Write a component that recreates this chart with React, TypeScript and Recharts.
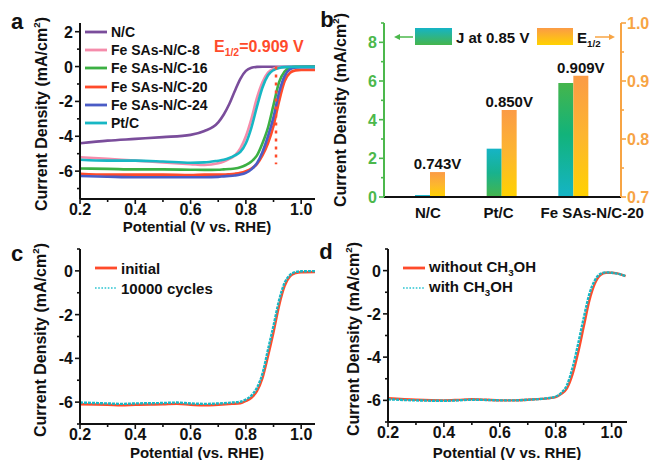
import React from 'react';
import { LineChart, Line, XAxis, YAxis, ReferenceLine, BarChart, Bar, Cell, LabelList, Legend } from 'recharts';

const FONT = '"Liberation Sans", Arial, Helvetica, sans-serif';

// ---------- panel a ----------
const potentialA = [0.2, 0.3, 0.4, 0.5, 0.6, 0.65, 0.7, 0.72, 0.74, 0.76, 0.78, 0.8, 0.82, 0.84, 0.86, 0.88, 0.9, 0.92, 0.94, 0.96, 0.98, 1.0, 1.05];
const jNC = [-4.4, -4.25, -4.15, -4.05, -3.92, -3.7, -3.2, -2.75, -2.15, -1.4, -0.7, -0.25, -0.07, -0.02, -0.01, -0.01, -0.01, -0.01, -0.01, -0.01, -0.01, -0.01, -0.01];
const jFe8 = [-5.2, -5.3, -5.4, -5.5, -5.6, -5.65, -5.55, -5.45, -5.3, -5.1, -4.7, -4.0, -3.0, -1.8, -0.9, -0.35, -0.12, -0.05, -0.03, -0.03, -0.03, -0.03, -0.03];
const jFe16 = [-5.85, -5.87, -5.9, -5.9, -5.92, -5.93, -5.92, -5.9, -5.88, -5.85, -5.78, -5.65, -5.45, -5.1, -4.4, -3.5, -2.2, -0.9, -0.28, -0.07, -0.02, -0.01, 0];
const jFe20 = [-6.15, -6.2, -6.2, -6.2, -6.22, -6.2, -6.2, -6.2, -6.18, -6.15, -6.1, -6.0, -5.85, -5.6, -5.1, -4.4, -3.4, -2.0, -0.85, -0.35, -0.22, -0.2, -0.2];
const jFe24 = [-6.28, -6.32, -6.35, -6.35, -6.35, -6.35, -6.33, -6.3, -6.28, -6.25, -6.2, -6.1, -5.9, -5.55, -4.9, -4.0, -2.9, -1.5, -0.55, -0.15, -0.05, -0.03, -0.03];
const jPtC = [-5.35, -5.4, -5.4, -5.45, -5.52, -5.5, -5.4, -5.35, -5.25, -5.1, -4.9, -4.4, -3.5, -2.3, -1.2, -0.5, -0.2, -0.08, -0.03, -0.02, -0.02, -0.02, -0.02];
const seriesA = [
  { key: 'nc', name: 'N/C', color: '#7a4d9b', values: jNC },
  { key: 'fe8', name: 'Fe SAs-N/C-8', color: '#f58cab', values: jFe8 },
  { key: 'fe16', name: 'Fe SAs-N/C-16', color: '#3cb043', values: jFe16 },
  { key: 'fe20', name: 'Fe SAs-N/C-20', color: '#ff4b2b', values: jFe20 },
  { key: 'fe24', name: 'Fe SAs-N/C-24', color: '#4a5cc6', values: jFe24 },
  { key: 'ptc', name: 'Pt/C', color: '#17b7c4', values: jPtC },
];
const e12Fe20 = 0.909;
const e12LineBottom = -5.6;

// ---------- panel b ----------
const catsB = ['N/C', 'Pt/C', 'Fe SAs-N/C-20'];
const jAt085 = [0.1, 2.5, 5.9];
const e12Vals = [0.743, 0.85, 0.909];

// ---------- panel c ----------
const potentialC = [0.2, 0.3, 0.35, 0.4, 0.5, 0.55, 0.6, 0.65, 0.7, 0.75, 0.78, 0.8, 0.82, 0.84, 0.86, 0.88, 0.9, 0.92, 0.94, 0.96, 0.98, 1.0, 1.05];
const jInitial = [-6.1, -6.12, -6.15, -6.12, -6.1, -6.08, -6.12, -6.15, -6.12, -6.08, -6.05, -5.95, -5.8, -5.5, -4.9, -3.9, -2.8, -1.6, -0.7, -0.25, -0.1, -0.06, -0.05];
const j10000 = [-6.02, -6.06, -6.08, -6.06, -6.04, -6.02, -6.06, -6.08, -6.06, -6.02, -5.98, -5.88, -5.7, -5.35, -4.7, -3.6, -2.5, -1.35, -0.55, -0.18, -0.05, -0.02, -0.01];

// ---------- panel d ----------
const potentialD = [0.2, 0.3, 0.4, 0.45, 0.5, 0.55, 0.6, 0.65, 0.7, 0.75, 0.8, 0.82, 0.84, 0.86, 0.88, 0.9, 0.92, 0.94, 0.96, 0.98, 1.0, 1.02, 1.05];
const jWithout = [-5.9, -5.97, -6.0, -5.98, -5.95, -5.97, -6.0, -6.0, -5.97, -5.93, -5.85, -5.7, -5.45, -4.8, -3.8, -2.6, -1.4, -0.6, -0.2, -0.1, -0.1, -0.13, -0.25];
const jWith = [-5.95, -6.0, -6.02, -6.0, -5.97, -5.98, -6.0, -6.0, -5.97, -5.93, -5.82, -5.65, -5.3, -4.5, -3.4, -2.2, -1.1, -0.45, -0.15, -0.08, -0.1, -0.14, -0.25];

const xTicks = [0.2, 0.3, 0.4, 0.5, 0.6, 0.7, 0.8, 0.9, 1.0];
const xMajors = [0.2, 0.4, 0.6, 0.8, 1.0];

const dataA = potentialA.map((p, i) => {
  const row: any = { p };
  seriesA.forEach((s) => { row[s.key] = s.values[i]; });
  return row;
});
const dataB = catsB.map((c, i) => ({ cat: c, j: jAt085[i], e: e12Vals[i] }));
const dataC = potentialC.map((p, i) => ({ p, initial: jInitial[i], cyc: j10000[i] }));
const dataD = potentialD.map((p, i) => ({ p, without: jWithout[i], withM: jWith[i] }));

const isIn = (arr: number[], v: number) => arr.some((m) => Math.abs(m - v) < 1e-6);
const TICK_FS = 16;

const BottomTick = (props: any) => {
  const { x, y, payload, majors, digits = 1, col = '#111' } = props;
  const v = payload.value;
  const major = isIn(majors, v);
  return (
    <g>
      <line x1={x} x2={x} y1={y} y2={y + (major ? 5 : 3)} stroke={col} strokeWidth={1.6} />
      {major && (
        <text x={x} y={y + 16} textAnchor="middle" style={{ fill: col, fontFamily: FONT, fontWeight: 'bold', fontSize: TICK_FS }}>
          {v.toFixed(digits)}
        </text>
      )}
    </g>
  );
};

const LeftTick = (props: any) => {
  const { x, y, payload, majors, digits = 0, col = '#111' } = props;
  const v = payload.value;
  const major = isIn(majors, v);
  return (
    <g>
      <line x1={x - (major ? 5 : 3)} x2={x} y1={y} y2={y} stroke={col} strokeWidth={1.6} />
      {major && (
        <text x={x - 7} y={y + 6} textAnchor="end" style={{ fill: col, fontFamily: FONT, fontWeight: 'bold', fontSize: TICK_FS }}>
          {v.toFixed(digits)}
        </text>
      )}
    </g>
  );
};

const RightTick = (props: any) => {
  const { x, y, payload, majors, digits = 1, col = '#111' } = props;
  const v = payload.value;
  const major = isIn(majors, v);
  return (
    <g>
      <line x1={x} x2={x + (major ? 5 : 3)} y1={y} y2={y} stroke={col} strokeWidth={1.6} />
      {major && (
        <text x={x + 6} y={y + 6} textAnchor="start" style={{ fill: col, fontFamily: FONT, fontWeight: 'bold', fontSize: TICK_FS }}>
          {v.toFixed(digits)}
        </text>
      )}
    </g>
  );
};

const CAT_SHIFT = [-2, -3, 19];
const CatTick = (props: any) => {
  const { x, y, payload, index } = props;
  return (
    <text x={x + (CAT_SHIFT[index] || 0)} y={y + 21} textAnchor="middle" style={{ fill: '#111', fontFamily: FONT, fontWeight: 'bold', fontSize: 15 }}>
      {payload.value}
    </text>
  );
};

const axisLine = { stroke: '#111', strokeWidth: 2 };

const Swatch = ({ color, dashed }: { color: string; dashed?: boolean }) => (
  <svg width={24} height={10} style={{ display: 'block' }}>
    <line x1={1} x2={23} y1={5} y2={5} stroke={color} strokeWidth={dashed ? 2.2 : 2.8} strokeDasharray={dashed ? '1.6 1.6' : undefined} />
  </svg>
);

const LegendRows = ({ items, rowH, fontSize }: { items: { label: React.ReactNode; color: string; dashed?: boolean }[]; rowH: number; fontSize: number }) => (
  <div style={{ fontFamily: FONT, fontWeight: 'bold', fontSize, color: '#111' }}>
    {items.map((it, i) => (
      <div key={i} style={{ display: 'flex', alignItems: 'center', height: rowH, whiteSpace: 'nowrap' }}>
        <Swatch color={it.color} dashed={it.dashed} />
        <span style={{ marginLeft: 3 }}>{it.label}</span>
      </div>
    ))}
  </div>
);

const Title = ({ x, y, rotate, size = 15, children }: { x: number; y: number; rotate?: boolean; size?: number; children: React.ReactNode }) => (
  <div
    style={{
      position: 'absolute', left: x, top: y, transform: `translate(-50%, -50%)${rotate ? ' rotate(-90deg)' : ''}`,
      whiteSpace: 'nowrap', fontFamily: FONT, fontWeight: 'bold', fontSize: size, color: '#111', lineHeight: 1,
    }}
  >
    {children}
  </div>
);

const cm2 = <>Current Density (mA/cm<sup style={{ fontSize: '0.62em' }}>2</sup>)</>;

export default function App() {
  return (
    <div style={{ position: 'absolute', left: 0, top: 0, width: 653, height: 460, background: '#fff', overflow: 'hidden' }}>
      {/* panel a */}
      <div style={{ position: 'absolute', left: 0, top: 0 }}>
        <LineChart width={326} height={230} data={dataA} margin={{ top: 23, right: 11, bottom: 0, left: 0 }}>
          <XAxis dataKey="p" type="number" domain={[0.2, 1.05]} allowDataOverflow ticks={xTicks} interval={0} height={31}
            axisLine={axisLine} tickLine={false} tickSize={0} tickMargin={0} tick={<BottomTick majors={xMajors} />} />
          <XAxis xAxisId="top" orientation="top" type="number" domain={[0.2, 1.05]} height={0} axisLine={axisLine} tick={false} tickLine={false} />
          <YAxis type="number" domain={[-7.6, 2.5]} allowDataOverflow ticks={[-7, -6, -5, -4, -3, -2, -1, 0, 1, 2]} interval={0} width={80}
            axisLine={axisLine} tickLine={false} tickSize={0} tickMargin={0} tick={<LeftTick majors={[-6, -4, -2, 0, 2]} />} />
          <YAxis yAxisId="r" orientation="right" type="number" domain={[-7.6, 2.5]} width={0} axisLine={axisLine} tick={false} tickLine={false} />
          {seriesA.map((s) => (
            <Line key={s.key} type="monotone" dataKey={s.key} stroke={s.color} strokeWidth={2.6} dot={false} isAnimationActive={false} />
          ))}
          <ReferenceLine segment={[{ x: e12Fe20, y: 0 }, { x: e12Fe20, y: e12LineBottom }]} stroke="#ff4b2b" strokeWidth={2.5} strokeDasharray="3 5" />
          <Legend layout="vertical" align="center" verticalAlign="middle" wrapperStyle={{ left: 84, top: 23, width: 140 }}
            content={() => <LegendRows rowH={18.2} fontSize={14} items={seriesA.map((s) => ({ label: s.name, color: s.color }))} />} />
        </LineChart>
      </div>

      {/* panel b */}
      <div style={{ position: 'absolute', left: 326, top: 0 }}>
        <BarChart width={327} height={230} data={dataB} margin={{ top: 23, right: 0, bottom: 0, left: 0 }} barGap={0}>
          <defs>
            <linearGradient id="jGradFe" x1="0" y1="0" x2="0" y2="1">
              <stop offset="0" stopColor="#45b54c" />
              <stop offset="0.45" stopColor="#12b37a" />
              <stop offset="1" stopColor="#15b4c6" />
            </linearGradient>
            <linearGradient id="jGradPt" x1="0" y1="0" x2="0" y2="1">
              <stop offset="0" stopColor="#15b4c6" />
              <stop offset="0.5" stopColor="#18b28e" />
              <stop offset="1" stopColor="#45b54c" />
            </linearGradient>
            <linearGradient id="eGrad" x1="0" y1="0" x2="0" y2="1">
              <stop offset="0" stopColor="#fb9b46" />
              <stop offset="0.5" stopColor="#fdb62f" />
              <stop offset="1" stopColor="#ffd200" />
            </linearGradient>
          </defs>
          <XAxis dataKey="cat" type="category" height={33} padding={{ left: 10, right: 12 }} axisLine={axisLine} tickLine={false} tickSize={0} tickMargin={0} tick={<CatTick />} interval={0} />
          <XAxis xAxisId="top" orientation="top" dataKey="cat" height={0} axisLine={axisLine} tick={false} tickLine={false} />
          <YAxis yAxisId="left" type="number" domain={[0, 9]} allowDataOverflow ticks={[0, 1, 2, 3, 4, 5, 6, 7, 8, 9]} interval={0} width={58}
            axisLine={{ stroke: '#4cb84c', strokeWidth: 2 }} tickLine={false} tickSize={0} tickMargin={0}
            tick={<LeftTick majors={[0, 2, 4, 6, 8]} col="#4cb84c" />} />
          <YAxis yAxisId="right" orientation="right" type="number" domain={[0.7, 1.0]} allowDataOverflow ticks={[0.7, 0.75, 0.8, 0.85, 0.9, 0.95, 1.0]} interval={0} width={32}
            axisLine={{ stroke: '#f7a444', strokeWidth: 2 }} tickLine={false} tickSize={0} tickMargin={0}
            tick={<RightTick majors={[0.7, 0.8, 0.9, 1.0]} col="#f7a444" />} />
          <Bar yAxisId="left" dataKey="j" barSize={15} isAnimationActive={false}>
            {dataB.map((d, i) => (
              <Cell key={i} fill={i === 0 ? '#15b4c6' : i === 1 ? 'url(#jGradPt)' : 'url(#jGradFe)'} />
            ))}
          </Bar>
          <Bar yAxisId="right" dataKey="e" barSize={15} fill="url(#eGrad)" isAnimationActive={false}>
            <LabelList dataKey="e" content={(p: any) => (
              <text x={p.x + p.width / 2} y={p.y - 3} textAnchor="middle" style={{ fill: '#111', fontFamily: FONT, fontWeight: 'bold', fontSize: 15 }}>
                {`${Number(p.value).toFixed(3)}V`}
              </text>
            )} />
          </Bar>
          <Legend layout="vertical" align="center" verticalAlign="middle" wrapperStyle={{ left: 68, top: 27, width: 225, height: 20 }}
            content={() => (
              <div style={{ position: 'relative', width: 225, height: 20, fontFamily: FONT, fontWeight: 'bold', fontSize: 15, color: '#111' }}>
                <svg width={225} height={20} style={{ position: 'absolute', left: 0, top: 0 }}>
                  <line x1={2} x2={19} y1={10} y2={10} stroke="#4cb84c" strokeWidth={1.5} />
                  <polygon points="0,10 6,7 6,13" fill="#4cb84c" />
                  <line x1={201} x2={218} y1={10} y2={10} stroke="#f7a444" strokeWidth={1.5} />
                  <polygon points="221,10 215,7 215,13" fill="#f7a444" />
                </svg>
                <div style={{ position: 'absolute', left: 21, top: 1, width: 37, height: 17, background: 'linear-gradient(#15b4c6, #45b54c)' }} />
                <div style={{ position: 'absolute', left: 62, top: 2, whiteSpace: 'nowrap' }}>J at 0.85 V</div>
                <div style={{ position: 'absolute', left: 143, top: 1, width: 36, height: 17, background: 'linear-gradient(#fb9b46, #ffd200)' }} />
                <div style={{ position: 'absolute', left: 183, top: 2, whiteSpace: 'nowrap' }}>E<sub style={{ fontSize: '0.65em' }}>1/2</sub></div>
              </div>
            )} />
        </BarChart>
      </div>

      {/* panel c */}
      <div style={{ position: 'absolute', left: 0, top: 230 }}>
        <LineChart width={326} height={230} data={dataC} margin={{ top: 19, right: 11, bottom: 0, left: 0 }}>
          <XAxis dataKey="p" type="number" domain={[0.2, 1.05]} allowDataOverflow ticks={xTicks} interval={0} height={36}
            axisLine={axisLine} tickLine={false} tickSize={0} tickMargin={0} tick={<BottomTick majors={xMajors} />} />
          <XAxis xAxisId="top" orientation="top" type="number" domain={[0.2, 1.05]} height={0} axisLine={axisLine} tick={false} tickLine={false} />
          <YAxis type="number" domain={[-7, 1]} allowDataOverflow ticks={[-7, -6, -5, -4, -3, -2, -1, 0, 1]} interval={0} width={80}
            axisLine={axisLine} tickLine={false} tickSize={0} tickMargin={0} tick={<LeftTick majors={[-6, -4, -2, 0]} />} />
          <YAxis yAxisId="r" orientation="right" type="number" domain={[-7, 1]} width={0} axisLine={axisLine} tick={false} tickLine={false} />
          <Line type="monotone" dataKey="initial" stroke="#ff4b2b" strokeWidth={2.4} dot={false} isAnimationActive={false} />
          <Line type="monotone" dataKey="cyc" stroke="#17b7c4" strokeWidth={2.4} strokeDasharray="3 1" dot={false} isAnimationActive={false} />
          <Legend layout="vertical" align="center" verticalAlign="middle" wrapperStyle={{ left: 94, top: 28, width: 140 }}
            content={() => <LegendRows rowH={20} fontSize={15} items={[{ label: 'initial', color: '#ff4b2b' }, { label: '10000 cycles', color: '#5fd3dc', dashed: true }]} />} />
        </LineChart>
      </div>

      {/* panel d */}
      <div style={{ position: 'absolute', left: 326, top: 230 }}>
        <LineChart width={327} height={230} data={dataD} margin={{ top: 19, right: 26, bottom: 0, left: 0 }}>
          <XAxis dataKey="p" type="number" domain={[0.2, 1.055]} allowDataOverflow ticks={xTicks} interval={0} height={38}
            axisLine={axisLine} tickLine={false} tickSize={0} tickMargin={0} tick={<BottomTick majors={xMajors} />} />
          <XAxis xAxisId="top" orientation="top" type="number" domain={[0.2, 1.055]} height={0} axisLine={axisLine} tick={false} tickLine={false} />
          <YAxis type="number" domain={[-7, 1]} allowDataOverflow ticks={[-7, -6, -5, -4, -3, -2, -1, 0, 1]} interval={0} width={62}
            axisLine={axisLine} tickLine={false} tickSize={0} tickMargin={0} tick={<LeftTick majors={[-6, -4, -2, 0]} />} />
          <YAxis yAxisId="r" orientation="right" type="number" domain={[-7, 1]} width={0} axisLine={axisLine} tick={false} tickLine={false} />
          <Line type="monotone" dataKey="without" stroke="#ff4b2b" strokeWidth={2.4} dot={false} isAnimationActive={false} />
          <Line type="monotone" dataKey="withM" stroke="#17b7c4" strokeWidth={2.4} strokeDasharray="3 1" dot={false} isAnimationActive={false} />
          <Legend layout="vertical" align="center" verticalAlign="middle" wrapperStyle={{ left: 76, top: 28, width: 170 }}
            content={() => <LegendRows rowH={20} fontSize={15} items={[
              { label: <>without CH<sub style={{ fontSize: '0.65em' }}>3</sub>OH</>, color: '#ff4b2b' },
              { label: <>with CH<sub style={{ fontSize: '0.65em' }}>3</sub>OH</>, color: '#5fd3dc', dashed: true },
            ]} />} />
        </LineChart>
      </div>

      {/* titles & annotations */}
      <Title x={41} y={114} rotate size={16}>{cm2}</Title>
      <Title x={197} y={226}>Potential (V vs. RHE)</Title>
      <Title x={340} y={110} rotate size={16}>{cm2}</Title>
      <Title x={40} y={340} rotate size={16}>{cm2}</Title>
      <Title x={197} y={452}>Potential (vs. RHE)</Title>
      <Title x={353} y={339} rotate size={16}>{cm2}</Title>
      <Title x={507} y={452}>Potential (V vs. RHE)</Title>

      <div style={{ position: 'absolute', left: 214, top: 39, fontFamily: FONT, fontWeight: 'bold', fontSize: 16, color: '#ff4b2b', whiteSpace: 'nowrap', lineHeight: 1 }}>
        E<sub style={{ fontSize: '0.65em' }}>1/2</sub>=0.909 V
      </div>

      <Title x={17} y={22} size={22}>a</Title>
      <Title x={327} y={20} size={22}>b</Title>
      <Title x={17} y={254} size={22}>c</Title>
      <Title x={326} y={252} size={22}>d</Title>
    </div>
  );
}
